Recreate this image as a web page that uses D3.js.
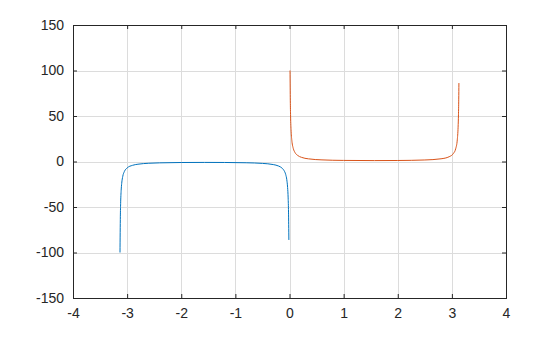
<!DOCTYPE html>
<html lang="en">
<head>
<meta charset="utf-8">
<title>csc plot</title>
<script src="https://d3js.org/d3.v7.min.js"></script>
<style>
  body { margin: 0; background: #fff; }
  svg text { font-family: "Liberation Sans", Arial, sans-serif; font-size: 14px; fill: #262626; }
  .grid line { stroke: #dcdcdc; stroke-width: 1px; shape-rendering: crispEdges; }
  .frame { fill: none; stroke: #262626; stroke-width: 1px; shape-rendering: crispEdges; }
</style>
</head>
<body>
<script>
// values
var xTicks = [-4, -3, -2, -1, 0, 1, 2, 3, 4];
var yTicks = [-150, -100, -50, 0, 50, 100, 150];

var blueX = [-3.1316, -3.125, -3.12, -3.11, -3.10, -3.08, -3.05, -3.0, -2.9, -2.8, -2.6, -2.4, -2.0, -1.57,
             -1.2, -0.8, -0.5, -0.3, -0.2, -0.14, -0.1, -0.07, -0.05, -0.035, -0.025, -0.018, -0.0116];
var blueY = [-100, -60.2, -46.3, -31.6, -24.0, -16.2, -10.9, -7.1, -4.2, -2.98, -1.94, -1.48, -1.10, -1.0,
             -1.07, -1.39, -2.09, -3.38, -5.03, -7.17, -10.0, -14.3, -20.0, -28.6, -40.0, -55.6, -86.2];

var orangeX = [0.01, 0.015, 0.02, 0.03, 0.045, 0.07, 0.1, 0.15, 0.22, 0.35, 0.6, 1.0, 1.57,
               2.0, 2.5, 2.8, 2.95, 3.03, 3.07, 3.10, 3.115, 3.122, 3.127, 3.13];
var orangeY = [100, 66.7, 50, 33.3, 22.2, 14.3, 10.0, 6.7, 4.6, 2.92, 1.77, 1.19, 1.0,
               1.10, 1.67, 2.98, 5.25, 8.98, 13.9, 23.8, 37.7, 51.3, 68.5, 86.2];

(function () {
  var width = 560, height = 337;
  var mL = 73, mR = 506, mT = 25, mB = 298;

  var svg = d3.select("body").append("svg")
    .attr("width", width)
    .attr("height", height);

  var x = d3.scaleLinear().domain([-4, 4]).range([mL, mR]);
  var y = d3.scaleLinear().domain([-150, 150]).range([mB, mT]);
  var fmt = d => String(d);

  // grid
  var grid = svg.append("g").attr("class", "grid");
  grid.selectAll("line.gx").data(xTicks).enter().append("line")
    .attr("class", "gx")
    .attr("x1", d => Math.round(x(d)) + 0.5).attr("x2", d => Math.round(x(d)) + 0.5)
    .attr("y1", mT).attr("y2", mB);
  grid.selectAll("line.gy").data(yTicks).enter().append("line")
    .attr("class", "gy")
    .attr("y1", d => Math.round(y(d)) + 0.5).attr("y2", d => Math.round(y(d)) + 0.5)
    .attr("x1", mL).attr("x2", mR);

  // series
  var line = d3.line()
    .x(d => x(d[0]))
    .y(d => y(d[1]))
    .curve(d3.curveMonotoneX);

  svg.append("path")
    .datum(d3.zip(blueX, blueY))
    .attr("fill", "none")
    .attr("stroke", "#0072bd")
    .attr("stroke-width", 1)
    .attr("d", line);

  svg.append("path")
    .datum(d3.zip(orangeX, orangeY))
    .attr("fill", "none")
    .attr("stroke", "#d95319")
    .attr("stroke-width", 1)
    .attr("d", line);

  // axes, ticks pointing inward
  function clean(g) {
    g.select(".domain").remove();
    g.attr("font-size", null).attr("font-family", null);
    g.selectAll(".tick line").attr("stroke", "#262626");
    g.selectAll(".tick text").attr("fill", "#262626");
  }
  svg.append("g")
    .attr("transform", "translate(0," + mB + ")")
    .call(d3.axisBottom(x).tickValues(xTicks).tickFormat(fmt).tickSizeInner(-4).tickSizeOuter(0).tickPadding(10))
    .call(clean);
  svg.append("g")
    .attr("transform", "translate(" + mL + ",0)")
    .call(d3.axisLeft(y).tickValues(yTicks).tickFormat(fmt).tickSizeInner(-4).tickSizeOuter(0).tickPadding(9))
    .call(clean);
  svg.append("g")
    .attr("transform", "translate(0," + mT + ")")
    .call(d3.axisTop(x).tickValues(xTicks).tickSizeInner(-4).tickSizeOuter(0).tickFormat(""))
    .call(clean);
  svg.append("g")
    .attr("transform", "translate(" + mR + ",0)")
    .call(d3.axisRight(y).tickValues(yTicks).tickSizeInner(-4).tickSizeOuter(0).tickFormat(""))
    .call(clean);

  svg.append("rect")
    .attr("class", "frame")
    .attr("x", mL + 0.5).attr("y", mT + 0.5)
    .attr("width", mR - mL).attr("height", mB - mT);
})();
</script>
</body>
</html>
